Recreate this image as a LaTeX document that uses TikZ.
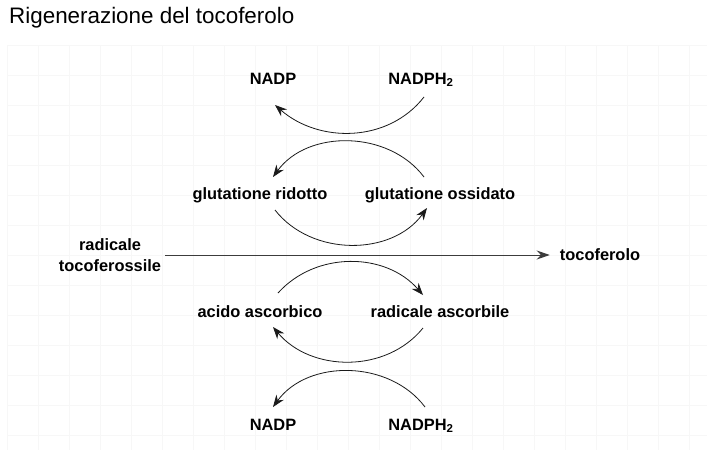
\documentclass[tikz,border=0pt]{standalone}
\usepackage{fontspec}
\setmainfont{Liberation Sans}
\usetikzlibrary{arrows.meta,calc}
\definecolor{gl}{HTML}{F7F7F7}
\definecolor{ln}{HTML}{1A1A1A}
\tikzset{
  lbl/.style={font=\fontsize{16.4}{21}\selectfont\bfseries, inner sep=2pt, align=center},
  arc/.style={draw=ln, line width=0.8pt, -{Stealth[length=12pt,width=9pt]}},
  gridline/.style={draw=gl, line width=1pt}
}
\begin{document}
\begin{tikzpicture}[x=1pt,y=-1pt]
  \useasboundingbox[fill=white] (0,0) rectangle (707,450);
  % faint squared paper
  \foreach \gx in {7,38,...,707} \draw[gridline] (\gx,45) -- (\gx,450);
  \foreach \gy in {45,75,...,450} \draw[gridline] (7,\gy) -- (707,\gy);
  \node[anchor=west, font=\fontsize{22.4}{26}\selectfont, inner sep=0pt] (title) at (9,18) {Rigenerazione del tocoferolo};
  % substances
  \node[lbl] (nadpA) at (273,79) {NADP};
  \node[lbl] (nadphA) at (421,80) {NADPH\textsubscript{2}};
  \node[lbl] (gsh) at (260,195) {glutatione ridotto};
  \node[lbl] (gssg) at (440,195) {glutatione ossidato};
  \node[lbl, inner sep=4pt] (radtoc) at (110,255) {radicale\\tocoferossile};
  \node[lbl, inner sep=4pt] (toc) at (600,255) {tocoferolo};
  \node[lbl] (asc) at (260,312) {acido ascorbico};
  \node[lbl] (radasc) at (440,312) {radicale ascorbile};
  \node[lbl] (nadpB) at (273,425) {NADP};
  \node[lbl] (nadphB) at (421,426) {NADPH\textsubscript{2}};
  % main reaction
  \draw[draw=ln!85, line width=1pt, -{Stealth[length=13pt,width=9pt]}, shorten >=6pt]
    (radtoc.east) -- (toc.west);
  % coupled cycles
  \draw[arc] ($(nadphA)+(3,17)$) to[out=232,in=-41] ($(nadpA)+(2,26)$);
  \draw[arc] ($(gssg)+(-16,-18)$) to[out=127,in=54] ($(gsh)+(13,-18)$);
  \draw[arc] ($(gsh)+(15,15)$) to[out=-52,in=234] ($(gssg)+(-13,13)$);
  \draw[arc] ($(asc)+(18,-19)$) to[out=48,in=131] ($(radasc)+(-17,-17)$);
  \draw[arc] ($(radasc)+(-17,16)$) to[out=231,in=-50] ($(asc)+(13,15)$);
  \draw[arc] ($(nadphB)+(4,-19)$) to[out=127,in=54] ($(nadpB)+(0,-18)$);
\end{tikzpicture}
\end{document}
